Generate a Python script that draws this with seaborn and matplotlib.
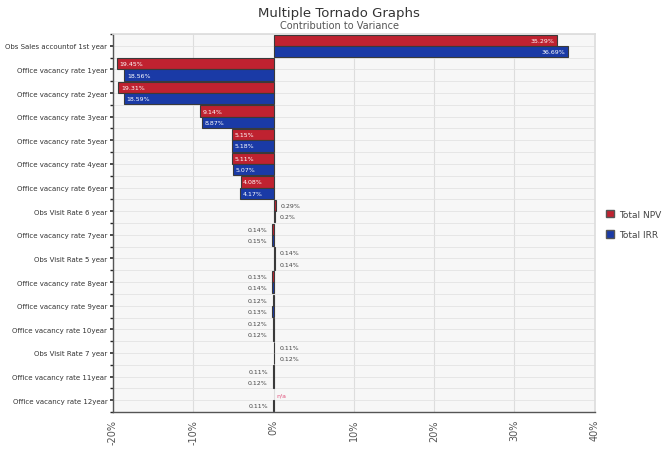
import numpy as np
import pandas as pd
import seaborn as sns
import matplotlib
matplotlib.use('Agg')
import matplotlib.pyplot as plt
from matplotlib.ticker import FuncFormatter, FixedLocator
from matplotlib.patches import Patch

# 数据
categories = [
    'Obs Sales accountof 1st year',
    'Office vacancy rate 1year',
    'Office vacancy rate 2year',
    'Office vacancy rate 3year',
    'Office vacancy rate 5year',
    'Office vacancy rate 4year',
    'Office vacancy rate 6year',
    'Obs Visit Rate 6 year',
    'Office vacancy rate 7year',
    'Obs Visit Rate 5 year',
    'Office vacancy rate 8year',
    'Office vacancy rate 9year',
    'Office vacancy rate 10year',
    'Obs Visit Rate 7 year',
    'Office vacancy rate 11year',
    'Office vacancy rate 12year',
]
npv = [35.29, -19.45, -19.31, -9.14, -5.15, -5.11, -4.08, 0.29, -0.14, 0.14,
       -0.13, -0.12, -0.12, 0.11, -0.11, np.nan]
irr = [36.69, -18.56, -18.59, -8.87, -5.18, -5.07, -4.17, 0.2, -0.15, 0.14,
       -0.14, -0.13, -0.12, 0.12, -0.12, -0.11]
series = ['Total NPV', 'Total IRR']
colors = {'Total NPV': '#bf2230', 'Total IRR': '#1a3aa6'}

df = pd.DataFrame({
    'Variable': categories * 2,
    'Value': npv + irr,
    'Series': [series[0]] * len(categories) + [series[1]] * len(categories),
})

sns.set_theme(style='white')
plt.rcParams['font.family'] = ['DejaVu Sans']

fig = plt.figure(figsize=(6.72, 4.6), dpi=100)
ax = fig.add_axes([0.168, 0.102, 0.717, 0.822])
ax.set_facecolor('#f7f7f7')

bar_w = 0.95
sns.barplot(data=df, y='Variable', x='Value', hue='Series', orient='h',
            palette=colors, saturation=1, width=bar_w, edgecolor='#3a3a3a',
            linewidth=0.8, legend=False, ax=ax)

ax.set_xlim(-20, 40)
ax.set_ylim(len(categories) - 0.5, -0.5)
ax.set_xticks(range(-20, 41, 10))
ax.xaxis.set_major_formatter(FuncFormatter(lambda v, p: f'{int(v)}%'))
ax.tick_params(axis='x', labelsize=7, labelrotation=90, colors='#555555',
               length=3, pad=2)
ax.tick_params(axis='y', labelsize=5, colors='#333333', length=2, pad=2, left=True)
ax.yaxis.set_minor_locator(FixedLocator(np.arange(-0.5, len(categories), 1)))
ax.tick_params(axis='y', which='minor', length=2, left=True)
ax.grid(True, axis='x', color='#dddddd', linewidth=0.8)
ax.grid(True, axis='y', which='both', color='#e3e3e3', linewidth=0.6)
ax.set_axisbelow(True)
ax.set_xlabel('')
ax.set_ylabel('')
for side in ['top', 'right']:
    ax.spines[side].set_color('#dddddd')
for side in ['left', 'bottom']:
    ax.spines[side].set_color('#555555')
    ax.spines[side].set_linewidth(1.0)

# 数值标签
offset = bar_w / 4
for k, vals in enumerate([npv, irr]):
    for i, v in enumerate(vals):
        yc = i - offset if k == 0 else i + offset
        if np.isnan(v):
            ax.text(0.4, yc, 'n/a', color='#e0507a', fontsize=4.5,
                    va='center', ha='left')
            continue
        txt = f'{abs(v):.2f}%' if abs(v) >= 1 else f'{abs(v):g}%'
        if abs(v) >= 3:
            if v < 0:
                ax.text(v + 0.3, yc, txt, color='white', fontsize=4.5,
                        va='center', ha='left')
            else:
                ax.text(v - 0.3, yc, txt, color='white', fontsize=4.5,
                        va='center', ha='right')
        else:
            if v < 0:
                ax.text(v - 0.6, yc, txt, color='#444444', fontsize=4.5,
                        va='center', ha='right')
            else:
                ax.text(v + 0.6, yc, txt, color='#444444', fontsize=4.5,
                        va='center', ha='left')

# 图例
handles = [Patch(facecolor=colors[s], edgecolor='#555555', label=s) for s in series]
fig.legend(handles=handles, loc='center left', bbox_to_anchor=(0.902, 0.51),
           frameon=False, fontsize=6.5, handlelength=0.9, handleheight=0.9,
           labelspacing=1.3, handletextpad=0.5, borderpad=0, borderaxespad=0,
           labelcolor='#444444')

fig.text(0.505, 0.985, 'Multiple Tornado Graphs', ha='center', va='top',
         fontsize=9.5, color='#333333')
fig.text(0.505, 0.955, 'Contribution to Variance', ha='center', va='top',
         fontsize=7, color='#555555')

plt.savefig('out.png', dpi=100)
plt.close()
